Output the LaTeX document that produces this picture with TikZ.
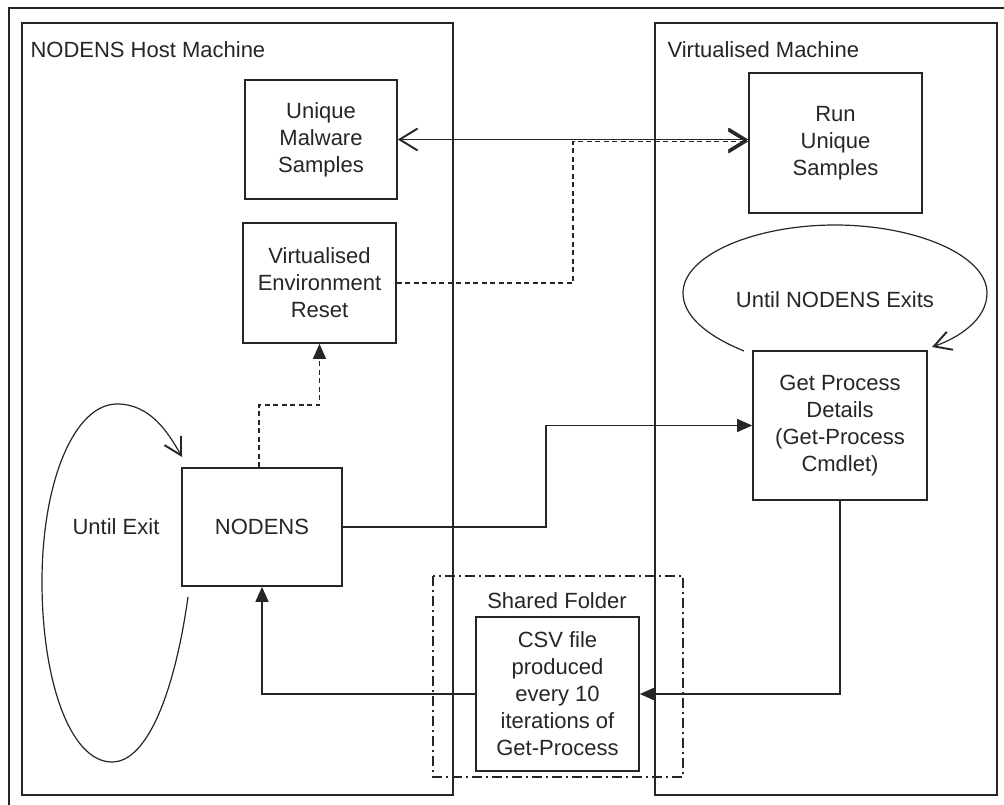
\documentclass[tikz,border=0pt]{standalone}
\usepackage{fontspec}
\setmainfont{Liberation Sans}
\usetikzlibrary{arrows.meta,calc}
\definecolor{ink}{HTML}{262626}
\begin{document}
\begin{tikzpicture}[x=1pt,y=-1pt,
  every node/.style={font=\fontsize{22}{27}\selectfont, text=ink},
  box/.style={draw=ink, line width=1.7pt, align=center, inner sep=0pt},
  frame/.style={draw=ink, line width=1.7pt},
  conn/.style={draw=ink, line width=1.5pt},
  filled/.style={-{Triangle[length=15pt,width=13pt]}},
  barb/.tip={Straight Barb[length=18pt,width=22pt,line width=1.9pt]},
  loopbarb/.tip={Straight Barb[length=17pt,width=19pt,line width=1.9pt]},
  dashline/.style={dash pattern=on 5pt off 3.5pt},
  dashdot/.style={dash pattern=on 10pt off 4pt on 2pt off 4pt}
]
\useasboundingbox (0,0) rectangle (1004,805);
\fill[white] (0,0) rectangle (1004,805);

% outer frame and machine boxes
\draw[ink, line width=1.3pt] (9,805) -- (9,8) -- (1004,8);
\draw[frame] (22,23) rectangle (453,795);
\draw[frame] (655,23) rectangle (997,795);
\draw[ink, line width=1.7pt, dashdot] (433,576) rectangle (683,777);

% labels
\node[anchor=west] (hostlbl) at (27,50) {NODENS Host Machine};
\node[anchor=west] (vmlbl) at (664,50) {Virtualised Machine};
\node (sflbl) at (557,601) {Shared Folder};
\node (loopa) at (116,527) {Until Exit};
\node (loopb) at (835,300) {Until NODENS Exits};

% process boxes
\node[box, minimum width=152pt, minimum height=119pt] (mal) at (321,139.5) {Unique\\Malware\\Samples};
\node[box, minimum width=153pt, minimum height=120pt] (reset) at (319.5,283) {Virtualised\\Environment\\Reset};
\node[box, minimum width=173pt, minimum height=140pt] (run) at (835.5,143) {Run\\Unique\\Samples};
\node[box, minimum width=174pt, minimum height=149pt] (gp) at (840,425.5) {Get Process\\Details\\(Get-Process\\Cmdlet)};
\node[box, minimum width=160pt, minimum height=118pt] (nod) at (262,527) {NODENS};
\node[box, minimum width=163pt, minimum height=154pt] (csv) at (557.5,694) {CSV file\\produced\\every 10\\iterations of\\Get-Process};

% connectors
\coordinate (djog) at (573,141.5);
\coordinate (njog) at (259,405);
\coordinate (gjog) at (546,425.5);

\draw[conn, barb-barb] (mal.east) -- (mal.east -| run.west);
\draw[conn, dashline, -barb] (reset.east) -| (djog) -- (djog -| run.west);
\draw[conn, dashline, filled] (nod.north -| njog) -- (njog) -- (njog -| reset.south) -- (reset.south);
\draw[conn, filled] (nod.east) -- (nod.east -| gjog) |- (gp.west);
\draw[conn, filled] (gp.south) |- (csv.east);
\draw[conn, filled] (csv.west) -| (nod.south);

% loops
\draw[conn, line width=1.2pt, -loopbarb]
  (188,597) .. controls (175,690) and (148,762) .. (112,762)
  .. controls (70,762) and (42,680) .. (42,582)
  .. controls (42,480) and (75,404) .. (117,404)
  .. controls (150,404) and (168,432) .. (182,457);
\draw[conn, line width=1.2pt, -loopbarb]
  (744,351) .. controls (705,335) and (683,315) .. (683,293)
  .. controls (683,255) and (755,225) .. (835,225)
  .. controls (915,225) and (987,255) .. (987,293)
  .. controls (987,320) and (958,338) .. (932,347);
\end{tikzpicture}
\end{document}
